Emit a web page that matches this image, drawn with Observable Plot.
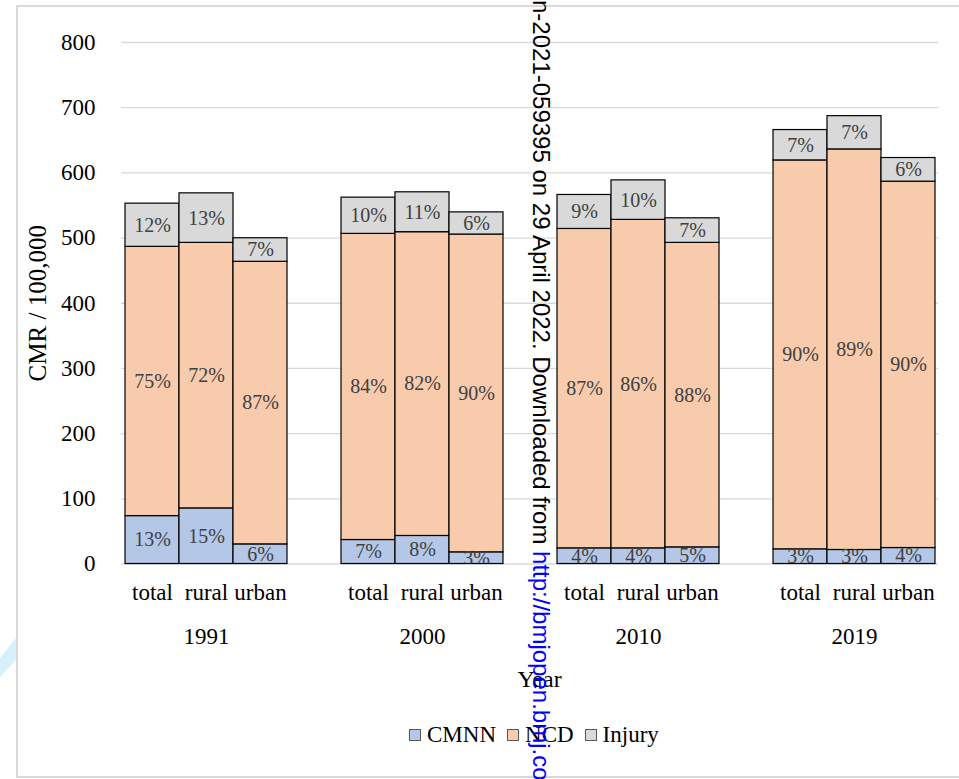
<!DOCTYPE html>
<html>
<head>
<meta charset="utf-8">
<script src="https://cdn.jsdelivr.net/npm/d3@7"></script>
<script src="https://cdn.jsdelivr.net/npm/@observablehq/plot@0.6"></script>
<style>
  html, body { margin: 0; padding: 0; background: #fff; overflow: hidden; }
  #wrap { position: relative; width: 959px; height: 779px; overflow: hidden;
          font-family: "Liberation Serif", "Times New Roman", serif; }
  #chart { position: absolute; left: 0; top: 0; }
  #frame { position: absolute; left: 16px; top: 5px; width: 960px; height: 773px;
           box-sizing: border-box; border: 2px solid #d9d9d9; pointer-events: none; }
  #legend { position: absolute; left: 409px; top: 723px; display: flex; align-items: center;
            font-size: 23px; line-height: 23px; color: #000; white-space: nowrap; }
  #legend .sw { width: 10px; height: 10px; border: 1px solid #595959; margin-right: 6px; }
  #legend .item { display: flex; align-items: center; margin-right: 11px; }
  #stamp { position: absolute; left: 553px; top: 0px; transform: rotate(90deg);
           transform-origin: 0 0; font-family: "Liberation Sans", Arial, sans-serif;
           font-size: 24px; line-height: 24px; color: #000; white-space: nowrap; }
  #stamp a { color: #0000ff; text-decoration: none; }
  #deco { position: absolute; left: 0; top: 0; }
</style>
</head>
<body>
<div id="wrap">
  <svg id="deco" width="20" height="700"><polygon points="16,638 16,660 0,677 0,658" fill="#d6f0fc"/></svg>
  <div id="chart"></div>
  <div id="frame"></div>
  <div id="legend"></div>
  <div id="stamp">n-2021-059395 on 29 April 2022. Downloaded from <a>http://bmjopen.bmj.co</a></div>
</div>
<script>
// Crude mortality rate per 100,000 by cause, for each year and residence group
const years = ["1991", "2000", "2010", "2019"];
const groups = ["total", "rural", "urban"];
const causes = ["CMNN", "NCD", "Injury"];
const colors = ["#b4c7e7", "#f8cbad", "#d9d9d9"];

// one value per (year, group), in the order 1991 total/rural/urban, 2000 ..., 2019 ...
const cmnn   = [73.5, 85.3, 30.1, 36.8, 43.0, 17.9, 24.0, 24.0, 25.5, 22.5, 21.5, 24.5];
const ncd    = [413.0, 407.3, 433.5, 469.6, 466.0, 487.5, 490.0, 503.9, 467.1, 596.6, 614.5, 562.0];
const injury = [66.3, 76.0, 36.1, 55.6, 61.2, 34.0, 52.1, 60.6, 37.7, 46.6, 51.0, 36.3];

const serif = "'Liberation Serif', 'Times New Roman', serif";

// band slots: three bars per year, one empty slot between years
const slots = [];
years.forEach((yr, i) => {
  groups.forEach(g => slots.push(`${yr} ${g}`));
  if (i < years.length - 1) slots.push(`gap ${i}`);
});

const rows = [];
years.forEach((yr, i) => groups.forEach((g, j) => {
  const k = i * groups.length + j;
  const vals = [cmnn[k], ncd[k], injury[k]];
  const total = d3.sum(vals);
  causes.forEach((c, m) => rows.push({
    slot: `${yr} ${g}`, cause: c, value: vals[m],
    share: Math.round(vals[m] / total * 100)
  }));
}));

const yTicks = d3.range(0, 801, 100);

const chart = Plot.plot({
  width: 959,
  height: 700,
  marginLeft: 121,
  marginRight: 21,
  marginTop: 42,
  marginBottom: 136.5,
  style: { fontFamily: serif, background: "transparent", overflow: "visible" },
  x: { type: "band", domain: slots, padding: 0, axis: null },
  y: { domain: [0, 800], axis: null },
  color: { domain: causes, range: colors },
  marks: [
    Plot.gridY(yTicks, { stroke: "#d9d9d9", strokeOpacity: 1, strokeWidth: 1.3 }),
    Plot.axisY(yTicks, { tickSize: 0, tickPadding: 26, fontSize: 23, fontFamily: serif, fill: "#000", label: null }),
    Plot.barY(rows, {
      x: "slot", y: "value", z: "cause", order: causes, fill: "cause",
      stroke: "#000", strokeWidth: 1.2, inset: 0
    }),
    Plot.text(rows, Plot.stackY({
      x: "slot", y: "value", z: "cause", order: causes,
      text: d => `${d.share}%`, fill: "#404040", fontSize: 20, fontFamily: serif, clip: true
    })),
    Plot.axisX(slots.filter(s => !s.startsWith("gap")), {
      tickFormat: s => s.split(" ")[1], tickSize: 0, tickPadding: 20, fontSize: 23, fontFamily: serif, fill: "#000", label: null
    }),
    Plot.axisX(years.map(y => `${y} rural`), {
      tickFormat: s => s.split(" ")[0], tickSize: 0, tickPadding: 63.5, fontSize: 23, fontFamily: serif, fill: "#000", label: null
    }),
    Plot.text(["Year"], { frameAnchor: "bottom", dx: 9.5, dy: 123, fontSize: 24, fontFamily: serif, fill: "#000" }),
    Plot.text(["CMR / 100,000"], {
      frameAnchor: "left", textAnchor: "middle", rotate: -90, dx: -84,
      fontSize: 25, fontFamily: serif, fill: "#000"
    })
  ]
});
document.getElementById("chart").appendChild(chart);

// legend built from the same cause names and colours
const legend = document.getElementById("legend");
causes.forEach((c, i) => {
  const item = document.createElement("div");
  item.className = "item";
  const sw = document.createElement("div");
  sw.className = "sw";
  sw.style.background = colors[i];
  const label = document.createElement("span");
  label.textContent = c;
  item.append(sw, label);
  legend.appendChild(item);
});
</script>
</body>
</html>
